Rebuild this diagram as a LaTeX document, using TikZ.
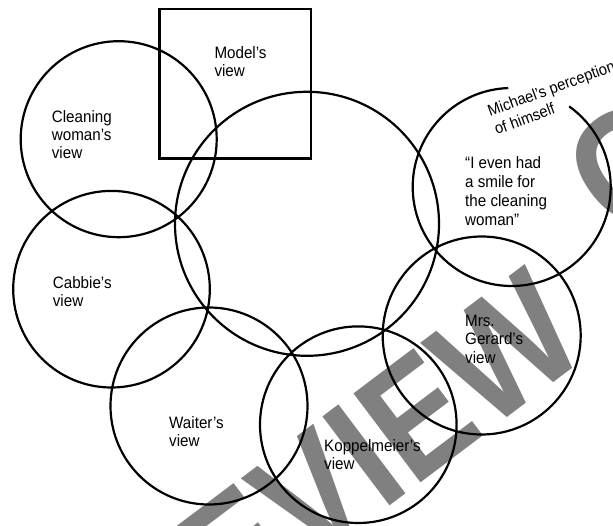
\documentclass[tikz,border=0pt]{standalone}
\usepackage{fontspec}
\setmainfont[FakeStretch=0.92]{Liberation Sans}
\newfontfamily\wmfont[FakeStretch=0.86]{Liberation Sans}
\definecolor{wmgray}{HTML}{808080}
\begin{document}
\begin{tikzpicture}[x=1pt,y=1pt,
  ring/.style={draw=black, line width=2.2pt},
  lbl/.style={anchor=base west, align=left, inner sep=0pt, font=\fontsize{16.5}{18.3}\selectfont},
  wm/.style={text=wmgray, inner sep=0pt, rotate=37, font=\wmfont\bfseries\fontsize{162}{162}\selectfont}]
\useasboundingbox (0,0) rectangle (613,-526);
\clip (0,0) rectangle (613,-526);
\fill[white] (0,0) rectangle (613,-526);
% watermark (pivot at the start of the letter I)
\coordinate (wmp) at (382,-512);
\coordinate (wmc) at (621,-243);
\node[wm, anchor=base east] (wm1) at (wmp) {PREV};
\node[wm, anchor=base west] (wm2) at (wmp) {IEW};
\node[wm, anchor=base west] (wm3) at (wmc) {COPY};
% centres
\coordinate (cw) at (118.7,-139.2);
\coordinate (cb) at (111.5,-289.2);
\coordinate (cc) at (307,-223.8);
\coordinate (wa) at (209,-406);
\coordinate (kp) at (358.3,-424.7);
\coordinate (gr) at (481.7,-335.5);
\coordinate (mc) at (511.7,-187);
% square
\draw[ring] (159.5,-9) rectangle (311,-158.5);
% circles
\draw[ring] (cw) circle[radius=98];
\draw[ring] (cb) circle[radius=98.3];
\draw[ring] (cc) circle[radius=132];
\draw[ring] (wa) circle[radius=98.5];
\draw[ring] (kp) circle[radius=98.3];
\draw[ring] (gr) circle[radius=99];
\draw[ring] ([shift={(92:99)}]mc) arc[start angle=92, end angle=414.5, radius=99];
% labels (anchor at baseline of last line)
\node[lbl] (lmodel) at (214.3,-76.7) {Model’s\\view};
\node[lbl] (lclean) at (51.7,-159) {Cleaning\\woman’s\\view};
\node[lbl] (lcab) at (52.7,-306.7) {Cabbie’s\\view};
\node[lbl] (lwait) at (169,-446.7) {Waiter’s\\view};
\node[lbl] (lkop) at (324,-469.3) {Koppelmeier’s\\view};
\node[lbl] (lger) at (465,-363.3) {Mrs.\\Gerard’s\\view};
\node[lbl, font=\fontsize{16.5}{19}\selectfont] (lquote) at (465,-225.7) {“I even had\\a smile for\\the cleaning\\woman”};
\node[lbl, rotate=20, font=\fontsize{16}{19.5}\selectfont] (lmich) at (496.7,-135) {Michael’s perception\\of himself};
\end{tikzpicture}
\end{document}
